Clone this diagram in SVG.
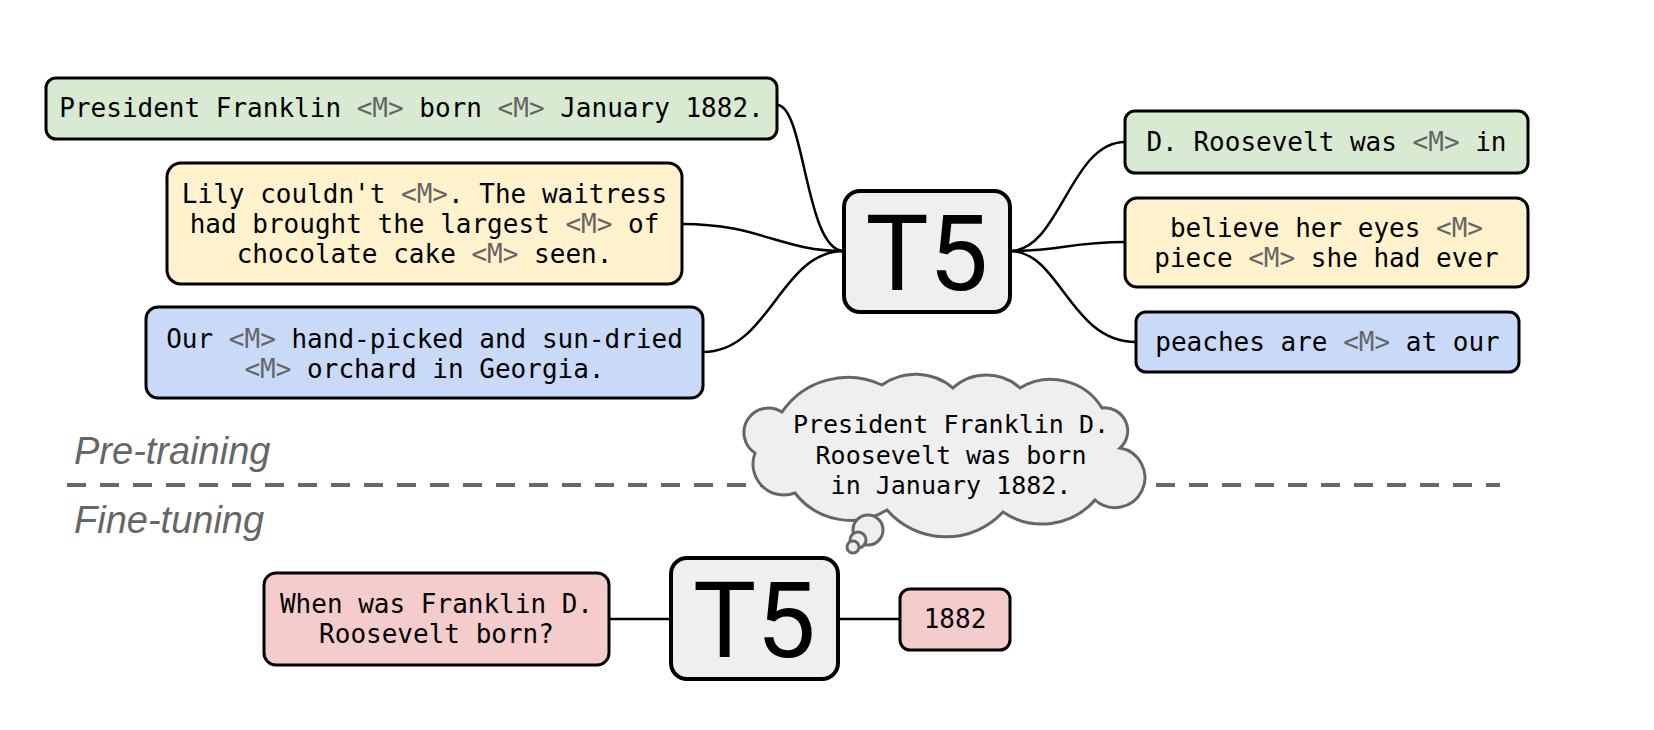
<svg xmlns="http://www.w3.org/2000/svg" width="1654" height="730" viewBox="0 0 1654 730">
<style>
.box{stroke:#000;stroke-width:3}
.g{fill:#d9ead3}.y{fill:#fff2cc}.b{fill:#c9daf8}.p{fill:#f4cccc}.t5{fill:#efefef;stroke:#000;stroke-width:4}
.txt{font-family:"DejaVu Sans Mono","Liberation Mono",monospace;font-size:26px;fill:#000;text-anchor:middle}
.ct{font-size:25px}
.m{fill:#666}
.big{font-family:Roboto,"Liberation Sans",sans-serif;font-size:106px;fill:#000;text-anchor:middle}
.lab{font-family:"Liberation Sans",Arial,sans-serif;font-style:italic;font-size:38px;fill:#666}
.con{fill:none;stroke:#000;stroke-width:2.5}
.cl{fill:#efefef;stroke:#666;stroke-width:3}
</style>
<rect width="1654" height="730" fill="#fff"/>
<g id="connectors">
<path class="con" d="M777,105 C805,105 805,251 844,251"/>
<path class="con" d="M682,224 C760,224 780,251 844,251"/>
<path class="con" d="M703,352 C770,352 780,251 844,251"/>
<path class="con" d="M1010,251 C1060,251 1070,142 1125,142"/>
<path class="con" d="M1010,251 C1060,251 1070,242 1125,242"/>
<path class="con" d="M1010,251 C1060,251 1070,342 1136,342"/>
<path class="con" d="M609,619 L671,619"/>
<path class="con" d="M838,619 L900,619"/>
</g>
<g id="divider">
<line x1="67" y1="485" x2="1500" y2="485" stroke="#666" stroke-width="4" stroke-dasharray="19,14"/>
<text class="lab" x="74" y="464">Pre-training</text>
<text class="lab" x="74" y="533">Fine-tuning</text>
</g>
<g id="in1"><rect class="box g" x="46" y="78" width="731" height="61" rx="10"/>
<text class="txt" x="411.5" y="117">President Franklin <tspan class="m">&lt;M&gt;</tspan> born <tspan class="m">&lt;M&gt;</tspan> January 1882.</text></g>
<g id="in2"><rect class="box y" x="167" y="163" width="515" height="121" rx="14"/>
<text class="txt" x="424.5" y="203">Lily couldn't <tspan class="m">&lt;M&gt;</tspan>. The waitress</text>
<text class="txt" x="424.5" y="233">had brought the largest <tspan class="m">&lt;M&gt;</tspan> of</text>
<text class="txt" x="424.5" y="263">chocolate cake <tspan class="m">&lt;M&gt;</tspan> seen.</text></g>
<g id="in3"><rect class="box b" x="146" y="307" width="557" height="91" rx="12"/>
<text class="txt" x="424.5" y="348">Our <tspan class="m">&lt;M&gt;</tspan> hand-picked and sun-dried</text>
<text class="txt" x="424.5" y="378"><tspan class="m">&lt;M&gt;</tspan> orchard in Georgia.</text></g>
<g id="t5a"><rect class="t5" x="844" y="191" width="166" height="121" rx="16"/>
<text class="big" x="927" y="290">T5</text></g>
<g id="out1"><rect class="box g" x="1125" y="111" width="403" height="62" rx="10"/>
<text class="txt" x="1326.5" y="151">D. Roosevelt was <tspan class="m">&lt;M&gt;</tspan> in</text></g>
<g id="out2"><rect class="box y" x="1125" y="198" width="403" height="89" rx="12"/>
<text class="txt" x="1326.5" y="237">believe her eyes <tspan class="m">&lt;M&gt;</tspan></text>
<text class="txt" x="1326.5" y="267">piece <tspan class="m">&lt;M&gt;</tspan> she had ever</text></g>
<g id="out3"><rect class="box b" x="1136" y="312" width="383" height="60" rx="10"/>
<text class="txt" x="1327.5" y="351">peaches are <tspan class="m">&lt;M&gt;</tspan> at our</text></g>
<g id="cloud">
<path class="cl" d="M755,453 A24.5,24.5 0 0 1 782,412 A80,80 0 0 1 882,385 A58,58 0 0 1 953,388 A50,50 0 0 1 1020,388 A60,60 0 0 1 1102,408 A23,23 0 0 1 1120,448 A30,30 0 1 1 1095,500 A70,70 0 0 1 1003,512 A78,78 0 0 1 887,510 A70,70 0 0 1 795,493 A31,31 0 0 1 755,453 Z"/>
<circle class="cl" cx="868" cy="530" r="15"/>
<circle class="cl" cx="858" cy="540" r="8"/>
<circle class="cl" cx="853" cy="547" r="6"/>
<text class="txt ct" x="951" y="433">President Franklin D.</text>
<text class="txt ct" x="951" y="464">Roosevelt was born</text>
<text class="txt ct" x="951" y="494">in January 1882.</text>
</g>
<g id="q"><rect class="box p" x="264" y="573" width="345" height="92" rx="12"/>
<text class="txt" x="436.5" y="613">When was Franklin D.</text>
<text class="txt" x="436.5" y="643">Roosevelt born?</text></g>
<g id="t5b"><rect class="t5" x="671" y="558" width="167" height="121" rx="16"/>
<text class="big" x="754.5" y="657">T5</text></g>
<g id="ans"><rect class="box p" x="900" y="589" width="110" height="61" rx="10"/>
<text class="txt" x="955" y="628">1882</text></g>
</svg>
